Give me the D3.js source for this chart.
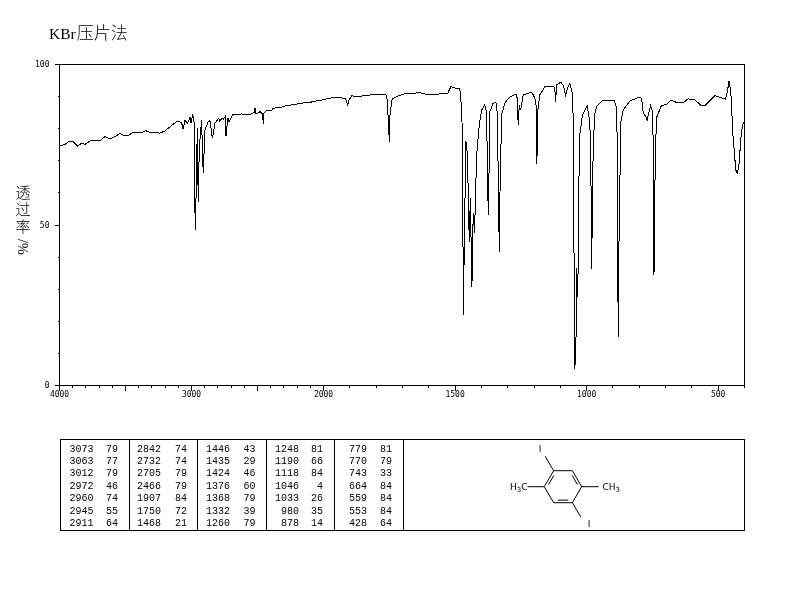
<!DOCTYPE html>
<html>
<head>
<meta charset="utf-8">
<script src="https://cdn.jsdelivr.net/npm/d3@7"></script>
<style>
html,body{margin:0;padding:0;background:#fff}
svg{display:block;will-change:transform}
text{fill:#000}
.tick-label{font-family:"DejaVu Sans Mono",monospace;font-size:8px}
.peak{font-family:"Liberation Mono",monospace;font-size:10px}
.atom{font-family:"DejaVu Sans",sans-serif;font-size:9px}
</style>
</head>
<body>
<script>
const titleText = "KBr";
const titleCjk = "压片法";
const yTitleText = "透过率";
const yTitleUnit = "/%";

const wavenumber = [3996,3958,3928,3895,3862,3832,3807,3769,3731,3693,3655,3630,3610,3567,3542,3517,3483,3448,3415,3377,3347,3314,3277,3239,3201,3163,3112,3095,3074,3064,3049,3030,3011,3004,2991,2981,2976,2970,2966,2956,2949,2941,2930,2923,2918,2911,2898,2873,2860,2842,2822,2792,2789,2771,2759,2741,2739,2733,2729,2721,2716,2688,2620,2570,2524,2519,2511,2481,2461,2456,2451,2430,2393,2380,2317,2292,2216,2178,2102,2064,2000,1988,1956,1925,1916,1908,1903,1893,1861,1842,1804,1763,1758,1752,1750,1747,1739,1722,1690,1633,1602,1563,1528,1516,1512,1488,1482,1475,1471,1469,1466,1459,1453,1446,1442,1436,1431,1426,1418,1408,1399,1387,1380,1376,1373,1368,1357,1345,1340,1336,1332,1330,1323,1311,1292,1269,1264,1260,1256,1251,1241,1209,1197,1190,1189,1186,1178,1159,1127,1121,1118,1114,1099,1089,1080,1070,1064,1055,1051,1049,1046,1041,1038,1033,1032,1026,1016,998,988,984,981,976,970,962,937,896,886,884,880,877,870,861,836,804,791,785,775,770,757,750,747,744,741,735,716,697,678,659,631,615,589,564,551,513,482,472,465,459,452,444,433,428,422,412,404];
const transmittance = [74.7,75.1,76.1,75.9,74.6,75.5,75.1,76.2,76.5,76.2,77.6,77,76.9,77.8,78.6,78,77.8,78.7,78.8,78.7,79.4,78.8,78.9,78.6,79.3,80.6,82.2,82.4,81.7,79.9,82.7,81.6,83.7,81.7,84.6,82.2,58,48.4,58,80.2,57.3,74,79.6,82.7,74,66.1,79.6,82.2,82.5,77,81.7,83.3,82.2,83.2,82.9,84,78,78,83.2,83.2,82.2,84.3,84.6,84.3,85,86.4,84.6,85.3,84.6,81.4,84.8,85.8,85.6,86.4,86.7,87.1,87.6,87.9,88.2,88.6,89,89.3,89.8,89.5,89.3,87.4,88.9,90.2,90.1,90.3,90.7,90.8,88.9,80.1,76,84.8,89.2,90,90.9,91.2,90.5,90.8,91,93.1,93,92.4,92.4,86.4,74,21.9,37.5,76.2,71.8,44.8,58.4,30.7,53.7,47.5,71.8,81.2,85.8,87.4,84.9,60.9,53,85.2,87.7,88.3,85.2,66.5,41.6,57.2,84.3,88,89.9,90.8,89.6,81.2,87.4,85.8,90.5,91.4,89.6,86.4,69,85.2,90.5,93,93.3,92.7,88.3,93.6,94.5,93.6,90.5,93.1,94.1,91.4,83.4,60.3,5.1,8.6,36.6,27.6,52.2,78,84.3,87.2,82.2,69.7,36.3,69.3,84.3,86.9,88.9,88.9,86.4,76.5,15.2,44.8,82.2,85.8,88.6,89.7,89.5,84.9,83.7,82.7,87.2,85.3,76,34.4,60.4,83.3,87.2,87.6,88.9,88.2,88.2,89.3,89,87.2,87.2,90.3,89.5,89.2,91.5,94.9,91.5,78,67.1,66.1,67.8,78.7,82.2];

const peakWave = [
  [3073,3063,3012,2972,2960,2945,2911],
  [2842,2732,2705,2466,1907,1750,1468],
  [1446,1435,1424,1376,1368,1332,1260],
  [1248,1190,1118,1046,1033,980,878],
  [779,770,743,664,559,553,428]
];
const peakTrans = [
  [79,77,79,46,74,55,64],
  [74,74,79,79,84,72,21],
  [43,29,46,60,79,39,79],
  [81,66,84,4,26,35,14],
  [81,79,33,84,84,84,64]
];

const xMajorTicks = [4000,3500,3000,2500,2000,1500,1000,500];
const xMinorTicks = d3.range(400,4001,100);
const xLabelTicks = [4000,3000,2000,1500,1000,500];
const yMinorTicks = d3.range(0,101,10);
const yLabelTicks = [0,50,100];

// Structure: ring atoms in bond-length units
const ringAtoms = [[-0.5,-0.87],[0.5,-0.87],[1,0],[0.5,0.87],[-0.5,0.87],[-1,0]];
const doubleBonds = [[5,0],[1,2],[3,4]];
const substituents = [[[-0.5,-0.87],[-0.95,-1.65]],[[0.5,0.87],[0.95,1.65]],[[1,0],[1.9,0]],[[-1,0],[-1.9,0]]];
const atomLabels = [
  {t:"I",x:-1.22,y:-2.05},
  {t:"I",x:1.4,y:2.0},
  {t:"CH",sub:"3",x:2.0,y:0,a:"start"},
  {t:"H",sub:"3",tail:"C",x:-1.9,y:0,a:"end"}
];

const W = 794, H = 595;
const svg = d3.select("body").append("svg").attr("width",W).attr("height",H);

const x = d3.scaleLinear().domain([4000,2000,400]).range([59.5,323.5,744.5]);
const y = d3.scaleLinear().domain([0,100]).range([385.5,64.5]);

// title
const title = svg.append("text").attr("x",49).attr("y",39);
title.append("tspan").attr("font-family","Liberation Serif").attr("font-size",15.5).text(titleText);
title.append("tspan").attr("font-family","Noto Sans CJK SC").attr("font-size",17).attr("dx",1).attr("font-weight",300).text(titleCjk);

// y title: one text element, each upright character placed below the last
const yTitleChars = Array.from(yTitleText);
svg.append("text").attr("font-family","Noto Sans CJK SC").attr("font-size",15).attr("font-weight",300)
  .attr("x",yTitleChars.map(()=>15.5).join(" "))
  .attr("y",yTitleChars.map((c,i)=>198+17*i).join(" "))
  .text(yTitleText);
svg.append("text").attr("transform","translate(18,239) rotate(90)")
  .attr("font-family","Liberation Serif").attr("font-size",14).text(yTitleUnit);

// frame
svg.append("path").attr("fill","none").attr("stroke","#000").attr("shape-rendering","crispEdges")
  .attr("d",`M${x(4000)},${y(0)}V${y(100)}H${x(400)}V${y(0)}Z`);

// axes
const axisX = (vals,size)=>d3.axisBottom(x).offset(0).tickSizeOuter(0).tickValues(vals).tickSize(size).tickFormat("");
const gxMinor = svg.append("g").attr("transform",`translate(0,${y(0)})`).call(axisX(xMinorTicks,2.5));
const gxMajor = svg.append("g").attr("transform",`translate(0,${y(0)})`).call(axisX(xMajorTicks,5.5));
const gxLab = svg.append("g").attr("transform",`translate(0,${y(0)})`)
  .call(d3.axisBottom(x).offset(0).tickValues(xLabelTicks).tickSize(0).tickPadding(8).tickFormat(d3.format("d")));
const axisY = (vals,size)=>d3.axisLeft(y).offset(0).tickSizeOuter(0).tickValues(vals).tickSize(size).tickFormat("");
const gyMinor = svg.append("g").attr("transform",`translate(${x(4000)},0)`).call(axisY(yMinorTicks,2));
const gyMajor = svg.append("g").attr("transform",`translate(${x(4000)},0)`).call(axisY(yLabelTicks,5));
const gyLab = svg.append("g").attr("transform",`translate(${x(4000)},0)`)
  .call(d3.axisLeft(y).offset(0).tickValues(yLabelTicks).tickSize(0).tickPadding(10).tickFormat(d3.format("d")));
[gxMinor,gxMajor,gxLab,gyMinor,gyMajor,gyLab].forEach(g=>{
  g.attr("font-family",null).attr("font-size",null);
  g.select(".domain").remove();
  g.selectAll("line").attr("stroke","#000").attr("shape-rendering","crispEdges");
  g.selectAll("text").attr("class","tick-label").attr("fill","#000");
});
gxLab.selectAll("text").attr("dy","0.4em");

// spectrum
const pts = wavenumber.map((w,i)=>[w,transmittance[i]]);
svg.append("path").datum(pts)
  .attr("fill","none").attr("stroke","#000").attr("stroke-width",1).attr("stroke-linejoin","miter")
  .attr("shape-rendering","crispEdges")
  .attr("d",d3.line().x(d=>x(d[0])).y(d=>y(d[1])));

// peak table
const tableTop = 439.5, tableBottom = 530.5, tableLeft = 60.5, tableRight = 744.5;
const dividers = [129.5,197.5,266.5,334.5,403.5];
const waveRight = [93.5,161,230,299,367];
const transRight = [118,187,255.5,323,392];
const rowY = d3.scalePoint().domain(d3.range(7)).range([451.5,526]);

svg.append("rect").attr("x",tableLeft).attr("y",tableTop)
  .attr("width",tableRight-tableLeft).attr("height",tableBottom-tableTop)
  .attr("fill","none").attr("stroke","#000").attr("shape-rendering","crispEdges");
svg.selectAll(".divider").data(dividers).join("line").attr("class","divider")
  .attr("x1",d=>d).attr("x2",d=>d).attr("y1",tableTop).attr("y2",tableBottom)
  .attr("stroke","#000").attr("shape-rendering","crispEdges");

peakWave.forEach((col,c)=>{
  const g = svg.append("g").attr("class","peak");
  g.selectAll(".w").data(col).join("text").attr("class","w")
    .attr("x",waveRight[c]).attr("y",(d,i)=>rowY(i)).attr("text-anchor","end").text(d=>d);
  g.selectAll(".t").data(peakTrans[c]).join("text").attr("class","t")
    .attr("x",transRight[c]).attr("y",(d,i)=>rowY(i)).attr("text-anchor","end").text(d=>d);
});

// structure
const sx = d3.scaleLinear().domain([-1,1]).range([544.3,581.7]);
const sy = d3.scaleLinear().domain([-0.87,0.87]).range([470.7,502.7]);
const s = svg.append("g").attr("stroke","#000").attr("fill","none");
s.append("path").attr("d",d3.line().x(d=>sx(d[0])).y(d=>sy(d[1])).curve(d3.curveLinearClosed)(ringAtoms));
doubleBonds.forEach(([a,b])=>{
  const A=ringAtoms[a],B=ringAtoms[b];
  const k=0.84, sh=0.16;
  const ax=A[0]+(B[0]-A[0])*sh, ay=A[1]+(B[1]-A[1])*sh;
  const bx=A[0]+(B[0]-A[0])*(1-sh), by=A[1]+(B[1]-A[1])*(1-sh);
  s.append("line").attr("x1",sx(ax*k)).attr("y1",sy(ay*k)).attr("x2",sx(bx*k)).attr("y2",sy(by*k));
});
substituents.forEach(([p,q])=>{
  s.append("line").attr("x1",sx(p[0])).attr("y1",sy(p[1])).attr("x2",sx(q[0])).attr("y2",sy(q[1]));
});
atomLabels.forEach(l=>{
  const t = svg.append("text").attr("class","atom")
    .attr("x",sx(l.x)+(l.a==="start"?2:0)).attr("y",sy(l.y)+3.5)
    .attr("text-anchor",l.a||"middle");
  t.append("tspan").text(l.t);
  if(l.sub) t.append("tspan").attr("dy",2).attr("font-size",7).text(l.sub);
  if(l.tail) t.append("tspan").attr("dy",-2).text(l.tail);
});
</script>
</body>
</html>
